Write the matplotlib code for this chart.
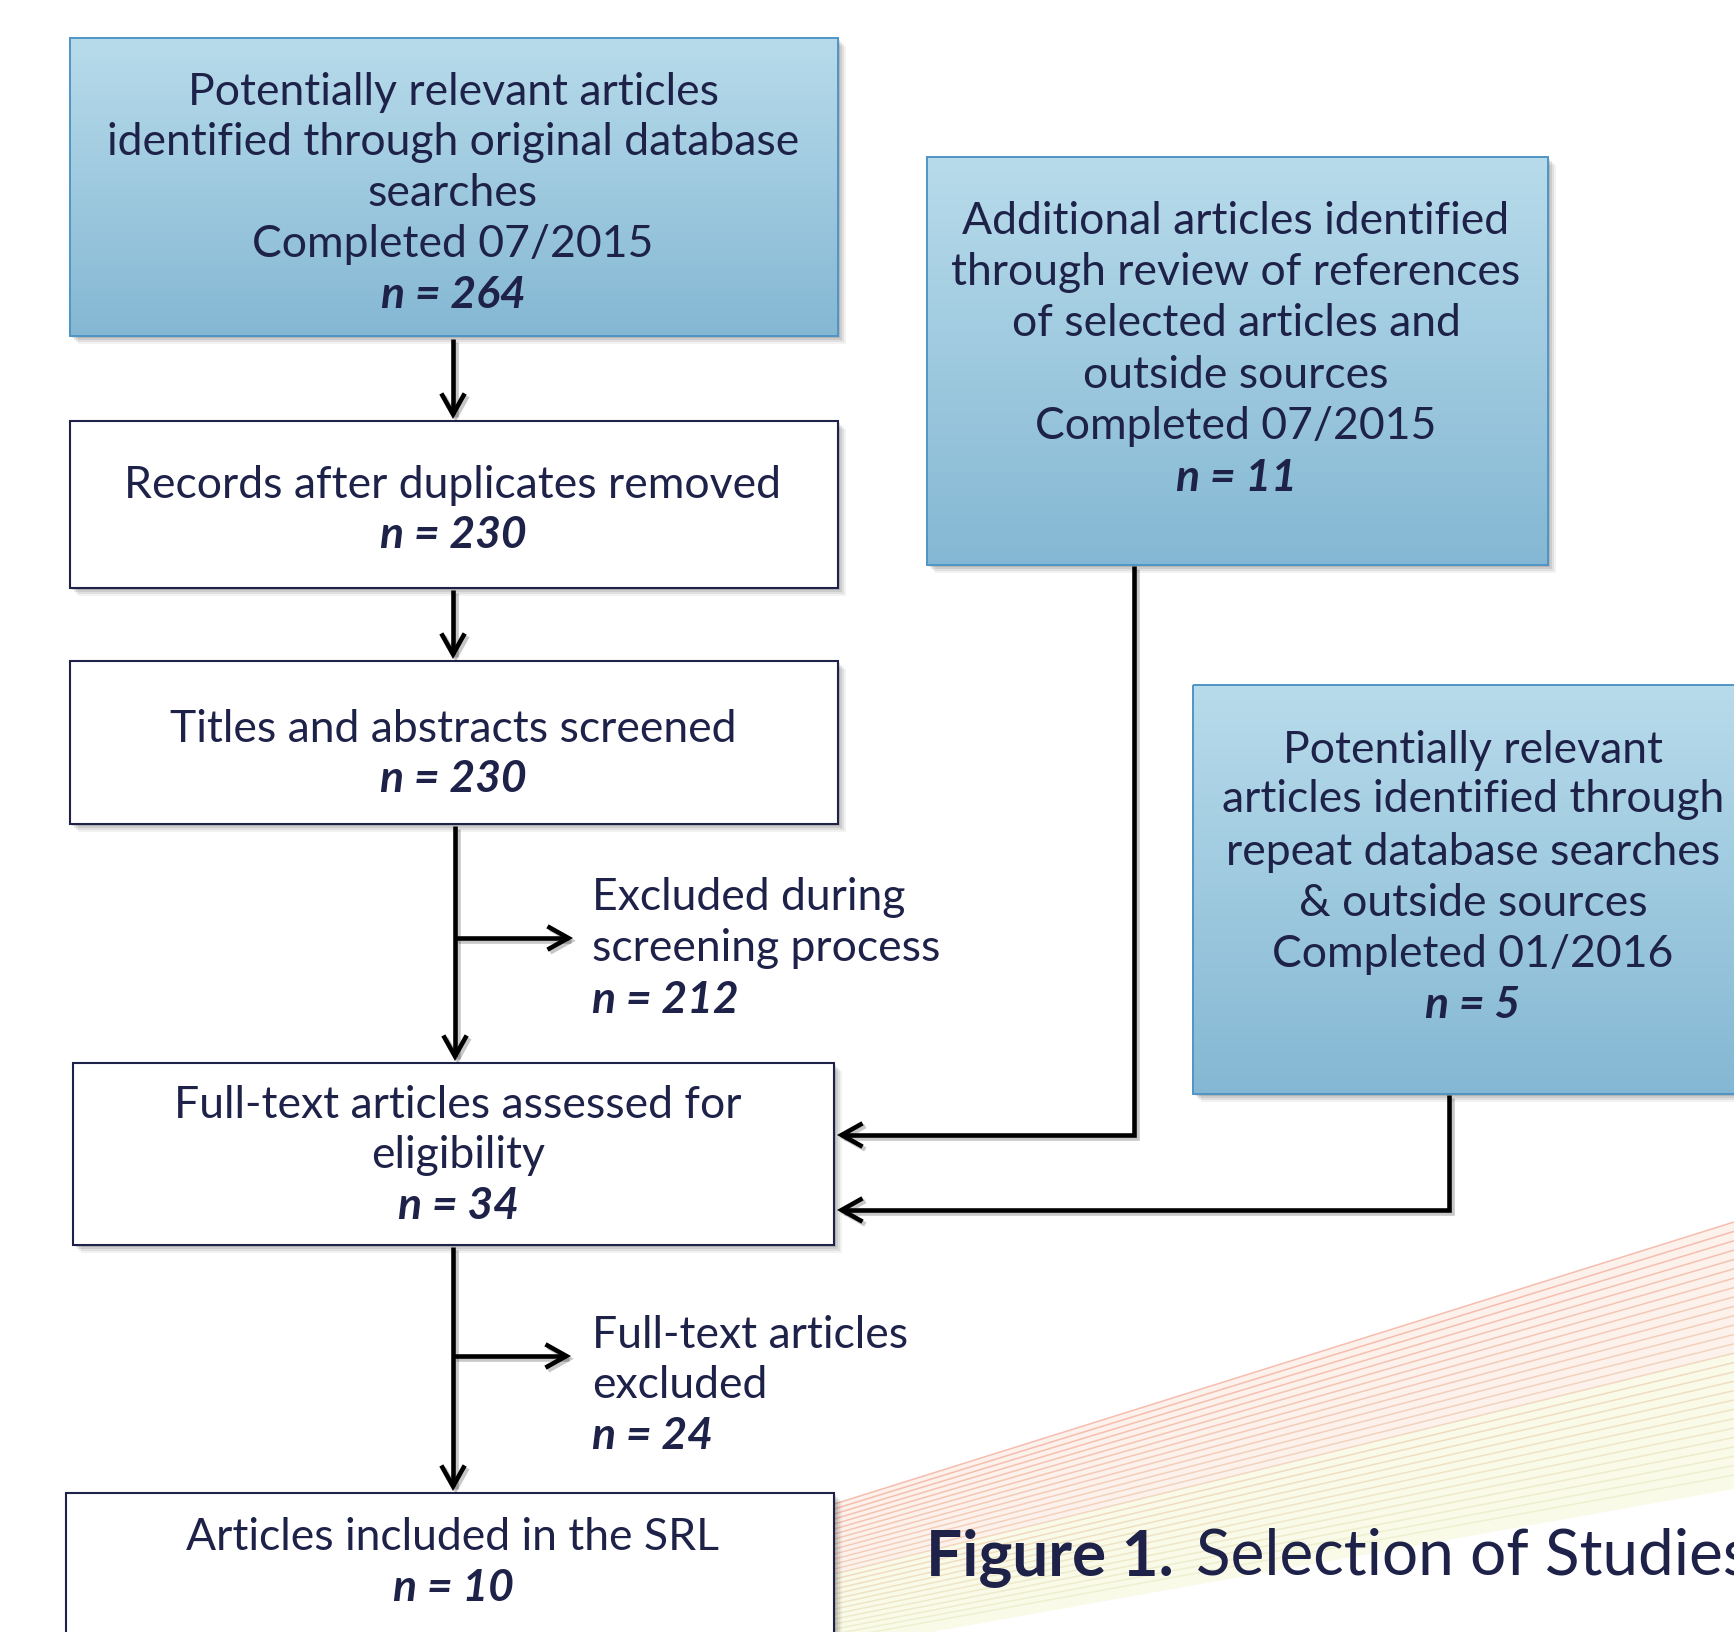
import numpy as np
import matplotlib
matplotlib.use("Agg")
import matplotlib.pyplot as plt
from matplotlib.patches import Rectangle, Polygon, FancyArrowPatch
from matplotlib.path import Path
import matplotlib.patheffects as pe

# ---- content ----
box1_lines = ["Potentially relevant articles", "identified through original database",
              "searches", "Completed 07/2015"]
box1_n = "n = 264"
box2_lines = ["Records after duplicates removed"]
box2_n = "n = 230"
box3_lines = ["Titles and abstracts screened"]
box3_n = "n = 230"
box4_lines = ["Full-text articles assessed for", "eligibility"]
box4_n = "n = 34"
box5_lines = ["Articles included in the SRL"]
box5_n = "n = 10"
right1_lines = ["Additional articles identified", "through review of references",
                "of selected articles and", "outside sources", "Completed 07/2015"]
right1_n = "n = 11"
right2_lines = ["Potentially relevant", "articles identified through",
                "repeat database searches", "& outside sources", "Completed 01/2016"]
right2_n = "n = 5"
excl1_lines = ["Excluded during", "screening process"]
excl1_n = "n = 212"
excl2_lines = ["Full-text articles", "excluded"]
excl2_n = "n = 24"
title_bold = "Figure 1."
title_rest = "Selection of Studies"

W, H = 1734, 1633
fig = plt.figure(figsize=(W / 100, H / 100), dpi=100)
ax = fig.add_axes([0, 0, 1, 1])
ax.set_xlim(0, W)
ax.set_ylim(H, 0)
ax.axis("off")

FONT = ["Lato", "DejaVu Sans"]
TXT = "#1e2249"
FS = 32

# ---- decorative fan ----
nfan = 28
x_left, x_right = 780, W
yl = np.linspace(1522, 1650, nfan)
yr = np.linspace(1223, 1476, nfan)
ax.add_patch(Polygon([(x_left, yl[0]), (x_right, yr[0]), (x_right, yr[14]), (x_left, yl[14])],
                     closed=True, facecolor="#fdf1ec", edgecolor="none", zorder=0.5))
ax.add_patch(Polygon([(x_left, yl[14]), (x_right, yr[14]), (x_right, 1490), (x_left, 1660)],
                     closed=True, facecolor="#fafae9", edgecolor="none", zorder=0.5))
c1 = np.array([0.95, 0.62, 0.54])
c2 = np.array([0.90, 0.93, 0.76])
for i in range(nfan):
    t = i / (nfan - 1)
    col = c1 * (1 - t) + c2 * t
    ax.plot([x_left, x_right], [yl[i], yr[i]], color=col, lw=1.1, alpha=0.65, zorder=0.6)


def shadow(x0, y0, x1, y1):
    for k, a in zip([2, 4, 6, 8], [0.11, 0.09, 0.07, 0.05]):
        ax.add_patch(Rectangle((x0 + k, y0 + k), x1 - x0, y1 - y0,
                               facecolor="black", edgecolor="none", alpha=a, zorder=1))


def blue_box(x0, y0, x1, y1):
    shadow(x0, y0, x1, y1)
    top = np.array([0.72, 0.86, 0.92])
    bot = np.array([0.52, 0.72, 0.83])
    g = np.linspace(0, 1, 256)[:, None, None]
    img = top * (1 - g) + bot * g
    im = ax.imshow(img, extent=(x0, x1, y1, y0), origin="upper", aspect="auto", zorder=2)
    r = Rectangle((x0, y0), x1 - x0, y1 - y0, facecolor="none",
                  edgecolor="#4f95c6", lw=1.4, zorder=3)
    ax.add_patch(r)
    im.set_clip_path(r)


def white_box(x0, y0, x1, y1):
    shadow(x0, y0, x1, y1)
    ax.add_patch(Rectangle((x0, y0), x1 - x0, y1 - y0, facecolor="white",
                           edgecolor="#1e2249", lw=1.5, zorder=2))


def lines_text(x, baselines, lines, nline, ha="center"):
    for b, s in zip(baselines[:-1], lines):
        ax.text(x, b, s, ha=ha, va="baseline", fontsize=FS, color=TXT,
                family=FONT, zorder=5)
    ax.text(x, baselines[-1], nline, ha=ha, va="baseline", fontsize=FS, color=TXT,
            family=FONT, fontweight="bold", fontstyle="italic", zorder=5)


# ---- boxes ----
blue_box(70, 39, 838, 337)
lines_text(453, [105, 155, 206, 257, 308], box1_lines, box1_n)
white_box(70, 422, 838, 589)
lines_text(453, [498, 548], box2_lines, box2_n)
white_box(70, 662, 838, 825)
lines_text(453, [742, 792], box3_lines, box3_n)
white_box(73, 1064, 834, 1246)
lines_text(458, [1118, 1168, 1219], box4_lines, box4_n)
white_box(66, 1494, 834, 1700)
lines_text(453, [1550, 1601], box5_lines, box5_n)
blue_box(927, 158, 1548, 566)
lines_text(1236, [234, 285, 336, 388, 439, 491], right1_lines, right1_n)
blue_box(1193, 686, 1770, 1095)
lines_text(1473, [763, 812, 865, 916, 967, 1018], right2_lines, right2_n)

lines_text(592, [910, 961, 1013], excl1_lines, excl1_n, ha="left")
lines_text(592, [1348, 1398, 1449], excl2_lines, excl2_n, ha="left")

# ---- arrows ----
LW = 3.3


def arrow(points):
    codes = [Path.MOVETO] + [Path.LINETO] * (len(points) - 1)
    p = FancyArrowPatch(path=Path(points, codes),
                        arrowstyle="->,head_length=0.75,head_width=0.42",
                        mutation_scale=20, lw=LW, color="black",
                        joinstyle="miter", capstyle="butt", zorder=4)
    p.set_path_effects([pe.SimpleLineShadow(offset=(2, -2), alpha=0.22), pe.Normal()])
    ax.add_patch(p)


arrow([(453, 340), (453, 420)])
arrow([(453, 591), (453, 660)])
arrow([(455, 827), (455, 1062)])
arrow([(455, 939), (573, 939)])
arrow([(453, 1248), (453, 1492)])
arrow([(453, 1357), (571, 1357)])
arrow([(1134, 567), (1134, 1136), (837, 1136)])
arrow([(1449, 1096), (1449, 1211), (837, 1211)])

# ---- title ----
t1 = ax.text(926, 1575, title_bold, ha="left", va="baseline", fontsize=46, color=TXT,
             family=FONT, fontweight="bold", zorder=5)
fig.canvas.draw()
bb = t1.get_window_extent()
x_end = ax.transData.inverted().transform((bb.x1, bb.y0))[0]
ax.text(x_end + 22, 1575, title_rest, ha="left", va="baseline", fontsize=46, color=TXT,
        family=FONT, zorder=5)

fig.savefig("out.png", dpi=100)
